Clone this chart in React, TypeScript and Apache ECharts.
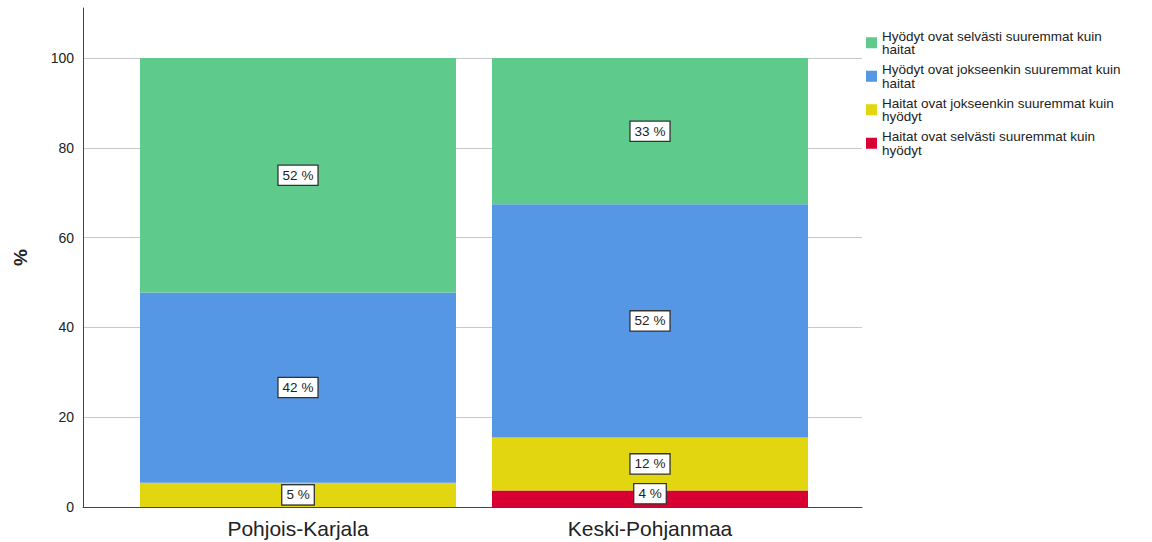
import React, { useEffect, useRef } from "react";
import * as echarts from "echarts";

const categories = ["Pohjois-Karjala", "Keski-Pohjanmaa"];
const seriesNames = [
  "Hyödyt ovat selvästi suuremmat kuin haitat",
  "Hyödyt ovat jokseenkin suuremmat kuin haitat",
  "Haitat ovat jokseenkin suuremmat kuin hyödyt",
  "Haitat ovat selvästi suuremmat kuin hyödyt",
];
const colors = ["#5ecb8c", "#5596e5", "#e1d60f", "#d80032"];
// values in percent, per category
const clearlyBenefits = [52.2, 32.6];
const somewhatBenefits = [42.4, 51.9];
const somewhatHarms = [5.4, 11.8];
const clearlyHarms = [null, 3.7];
const yTicks = [0, 20, 40, 60, 80, 100];

const FONT = "'Liberation Sans', Arial, sans-serif";

export default function App() {
  const ref = useRef<HTMLDivElement>(null);
  useEffect(() => {
    if (!ref.current) return;
    const chart = echarts.init(ref.current, null, { renderer: "svg" });
    const label = {
      show: true,
      position: "inside",
      formatter: (p: any) => `${Math.round(p.value)} %`,
      backgroundColor: "#ffffff",
      borderColor: "#333333",
      borderWidth: 1.3,
      padding: [3, 4, 2, 4],
      fontSize: 13.5,
      fontFamily: FONT,
      color: "#222222",
    };
    const mk = (name: string, data: (number | null)[], color: string) => ({
      name,
      type: "bar",
      stack: "total",
      xAxisIndex: 2,
      yAxisIndex: 2,
      barWidth: 316,
      data: data.map((v, i) =>
        name === seriesNames[3] && v != null && i === 1
          ? { value: v, label: { offset: [0, -5] } }
          : v
      ),
      itemStyle: { color },
      label,
    });
    chart.setOption({
      animation: false,
      color: colors,
      textStyle: { fontFamily: FONT },
      grid: [
        { left: 83, top: 8, width: 779, height: 499 },
        { left: 83, top: 58, width: 779, height: 449 },
        { left: 122, top: 58, width: 704, height: 449 },
      ],
      xAxis: [
        { gridIndex: 0, type: "value", show: false },
        {
          gridIndex: 1,
          type: "value",
          axisLine: { show: true, lineStyle: { color: "#444", width: 1 } },
          axisTick: { show: false },
          axisLabel: { show: false },
          splitLine: { show: false },
        },
        {
          gridIndex: 2,
          type: "category",
          data: categories,
          axisLine: { show: false },
          axisTick: { show: false },
          axisLabel: { fontSize: 21, color: "#222", fontFamily: FONT, margin: 11 },
        },
      ],
      yAxis: [
        {
          gridIndex: 0,
          type: "value",
          min: 0,
          max: 111.1,
          name: "%",
          nameLocation: "middle",
          nameGap: 53,
          nameRotate: 90,
          nameTextStyle: { fontSize: 19, fontWeight: "bold", color: "#222", fontFamily: FONT },
          axisLine: { show: true, lineStyle: { color: "#444", width: 1 } },
          axisTick: { show: false },
          axisLabel: { show: false },
          splitLine: { show: false },
        },
        {
          gridIndex: 1,
          type: "value",
          min: yTicks[0],
          max: yTicks[yTicks.length - 1],
          interval: 20,
          axisLine: { show: false },
          axisTick: { show: false },
          axisLabel: { fontSize: 14, color: "#222", fontFamily: FONT, margin: 9 },
          splitLine: { show: true, lineStyle: { color: "#c8c8c8", width: 1 } },
        },
        {
          gridIndex: 2,
          type: "value",
          min: 0,
          max: 100,
          show: false,
        },
      ],
      legend: {
        orient: "vertical",
        left: 861,
        top: 24,
        itemWidth: 11,
        itemHeight: 11,
        itemGap: 6,
        icon: "rect",
        data: seriesNames,
        formatter: (n: string) => n.replace(" kuin ", " kuin\n"),
        textStyle: { fontSize: 13.5, lineHeight: 13.5, color: "#222", fontFamily: FONT },
      },
      series: [
        mk(seriesNames[3], clearlyHarms, colors[3]),
        mk(seriesNames[2], somewhatHarms, colors[2]),
        mk(seriesNames[1], somewhatBenefits, colors[1]),
        mk(seriesNames[0], clearlyBenefits, colors[0]),
      ],
    });
    return () => chart.dispose();
  }, []);
  return <div ref={ref} style={{ width: 1152, height: 542, position: "absolute", left: 0, top: 0 }} />;
}
